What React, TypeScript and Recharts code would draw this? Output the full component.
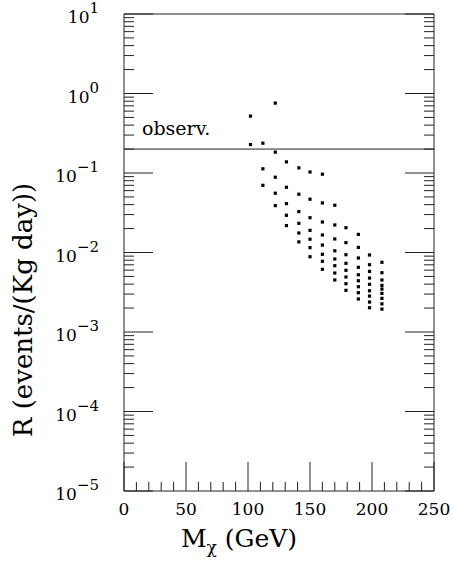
import React from "react"
import { ScatterChart, Scatter, XAxis, YAxis, ReferenceLine, Label } from "recharts"

// neutralino masses (GeV) of each column of points
const masses = [102, 112, 122, 131, 141, 150, 160, 170, 179, 189, 198, 208]

// rates R (events/(Kg day)), top to bottom
const rates102 = [0.52, 0.228]
const rates112 = [0.237, 0.113, 0.07]
const rates122 = [0.757, 0.183, 0.0885, 0.0557, 0.0389]
const rates131 = [0.138, 0.0662, 0.0412, 0.0294, 0.0218]
const rates141 = [0.116, 0.0541, 0.0327, 0.0233, 0.0176, 0.0136]
const rates150 = [0.103, 0.0468, 0.0274, 0.019, 0.0147, 0.0115, 0.00885]
const rates160 = [0.0966, 0.042, 0.0242, 0.0166, 0.0124, 0.00949, 0.00775, 0.00614]
const rates170 = [0.0393, 0.0222, 0.0148, 0.0105, 0.00828, 0.00682, 0.00552, 0.00451]
const rates179 = [0.0205, 0.0133, 0.00938, 0.00731, 0.00597, 0.00492, 0.00405, 0.00334]
const rates189 = [0.0169, 0.0116, 0.00853, 0.00651, 0.00525, 0.00441, 0.00371, 0.00312, 0.0026]
const rates198 = [0.00931, 0.00702, 0.00579, 0.00477, 0.00398, 0.0033, 0.00283, 0.00238, 0.00202]
const rates208 = [0.00753, 0.00557, 0.00451, 0.00386, 0.00347, 0.00306, 0.00265, 0.00226, 0.00194]

const observedLimit = 0.2

const xTicks = [0, 10, 20, 30, 40, 50, 60, 70, 80, 90, 100, 110, 120, 130, 140, 150, 160, 170, 180, 190, 200, 210, 220, 230, 240, 250]
const xLabels = [0, 50, 100, 150, 200, 250]
const yDecades = [1e-5, 1e-4, 1e-3, 1e-2, 1e-1, 1]
const yMultiples = [1, 2, 3, 4, 5, 6, 7, 8, 9]

const rateColumns = [
  rates102, rates112, rates122, rates131, rates141, rates150,
  rates160, rates170, rates179, rates189, rates198, rates208,
]

const points = masses.flatMap((m, i) => rateColumns[i].map((r) => ({ mass: m, rate: r })))
const yTicks = [...yDecades.flatMap((d) => yMultiples.map((k) => k * d)), 10]

const FONT = "'DejaVu Serif', serif"
const INK = "#222"

const isDecade = (v: number) => Math.abs(Math.log10(v) - Math.round(Math.log10(v))) < 1e-6
const expText = (v: number) => {
  const e = Math.round(Math.log10(v))
  return e < 0 ? `\u2212${-e}` : `${e}`
}

const YTick = (props: any) => {
  const { x, y, payload, side } = props
  const v = payload.value
  const major = isDecade(v)
  const len = major ? 29 : 10
  const dir = side === "left" ? 1 : -1
  return (
    <g>
      <line x1={x} x2={x + dir * len} y1={y} y2={y} stroke={INK} strokeWidth={1} />
      {major && side === "left" && (
        <text x={x - 25} y={y + 9} textAnchor="end" fontFamily={FONT} fontSize={17} fill="#000">
          10
          <tspan dy={-10} fontSize={15}>{expText(v)}</tspan>
        </text>
      )}
    </g>
  )
}

const XTick = (props: any) => {
  const { x, y, payload, side } = props
  const v = payload.value
  const major = xLabels.includes(v)
  const len = major ? 29 : 9
  const dir = side === "bottom" ? -1 : 1
  return (
    <g>
      <line x1={x} x2={x} y1={y} y2={y + dir * len} stroke={INK} strokeWidth={1} />
      {major && side === "bottom" && (
        <text x={x} y={y + 24} textAnchor="middle" fontFamily={FONT} fontSize={17} fill="#000">
          {v}
        </text>
      )}
    </g>
  )
}

const Dot = (props: any) => {
  const { cx, cy } = props
  return <rect x={cx - 1.6} y={cy - 1.6} width={3.2} height={3.2} fill="#000" />
}

export default function App() {
  return (
    <div style={{ position: "absolute", left: 0, top: 0, background: "#fff" }}>
      <ScatterChart width={453} height={563} margin={{ top: 0, right: 0, bottom: 0, left: 0 }}>
        <XAxis
          dataKey="mass"
          type="number"
          domain={[0, 250]}
          ticks={xTicks}
          interval={0}
          allowDataOverflow
          height={72}
          tickSize={0}
          tickMargin={0}
          tickLine={false}
          axisLine={{ stroke: INK }}
          tick={(p: any) => <XTick {...p} side="bottom" />}
        >
          <Label
            content={({ viewBox }: any) => (
              <text
                x={viewBox.x + 115}
                y={viewBox.y + 56}
                textAnchor="middle"
                fontFamily={FONT}
                fontSize={25}
                fill="#000"
              >
                M
                <tspan dy={6} fontSize={17}>χ</tspan>
                <tspan dy={-6}> (GeV)</tspan>
              </text>
            )}
          />
        </XAxis>
        <XAxis
          xAxisId="top"
          orientation="top"
          type="number"
          domain={[0, 250]}
          ticks={xTicks}
          interval={0}
          allowDataOverflow
          height={14}
          tickSize={0}
          tickMargin={0}
          tickLine={false}
          axisLine={{ stroke: INK }}
          tick={(p: any) => <XTick {...p} side="top" />}
        />
        <YAxis
          dataKey="rate"
          type="number"
          scale="log"
          domain={[1e-5, 10]}
          ticks={yTicks}
          interval={0}
          allowDataOverflow
          width={124}
          tickSize={0}
          tickMargin={0}
          tickLine={false}
          axisLine={{ stroke: INK }}
          tick={(p: any) => <YTick {...p} side="left" />}
        >
          <Label
            content={({ viewBox }: any) => {
              const cx = viewBox.x + 23
              const cy = viewBox.y + 296
              return (
                <text
                  x={cx}
                  y={cy}
                  transform={`rotate(-90 ${cx} ${cy})`}
                  textAnchor="middle"
                  dominantBaseline="central"
                  fontFamily={FONT}
                  fontSize={26}
                  fill="#000"
                >
                  R (events/(Kg day))
                </text>
              )
            }}
          />
        </YAxis>
        <YAxis
          yAxisId="right"
          orientation="right"
          type="number"
          scale="log"
          domain={[1e-5, 10]}
          ticks={yTicks}
          interval={0}
          allowDataOverflow
          width={19}
          tickSize={0}
          tickMargin={0}
          tickLine={false}
          axisLine={{ stroke: INK }}
          tick={(p: any) => <YTick {...p} side="right" />}
        />
        <ReferenceLine
          y={observedLimit}
          stroke={INK}
          strokeWidth={1}
          label={
            <Label
              content={({ viewBox }: any) => (
                <text x={viewBox.x + 18} y={viewBox.y - 14} fontFamily={FONT} fontSize={19} fill="#000">
                  observ.
                </text>
              )}
            />
          }
        />
        <Scatter data={points} shape={Dot} isAnimationActive={false} />
      </ScatterChart>
    </div>
  )
}
